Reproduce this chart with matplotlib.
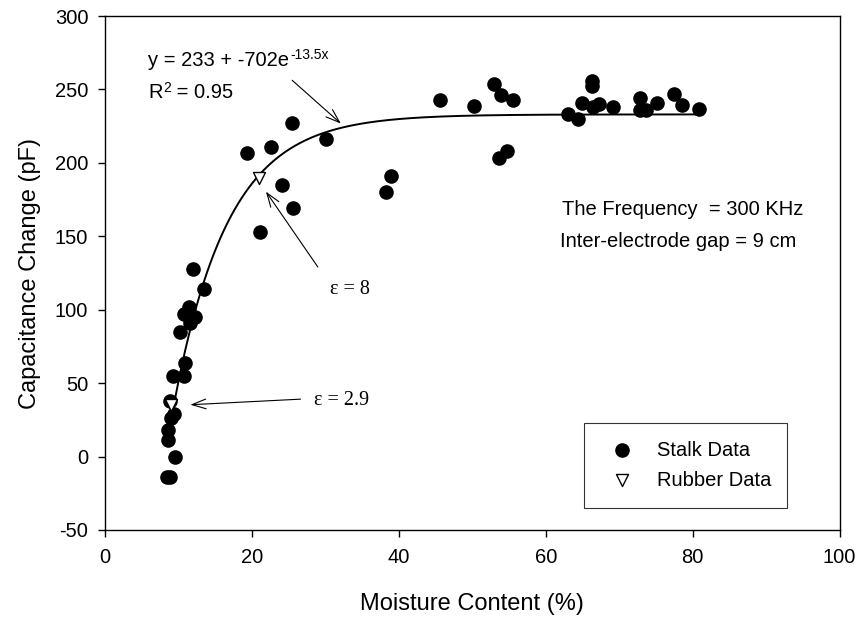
import numpy as np
import matplotlib
matplotlib.use("Agg")
from matplotlib import pyplot as plt

# stalk measurements (moisture %, capacitance change pF)
stalk_x = [8.5, 8.9, 9.5, 8.6, 8.6, 9.0, 9.4, 8.85, 9.2, 10.7, 10.9, 10.2, 11.6, 12.2,
           10.7, 11.4, 13.5, 12.0,
           19.3, 22.6, 25.5, 30.1, 24.1, 25.6, 21.1, 38.3, 39.0,
           45.6, 50.3, 53.0, 53.9, 55.5, 53.6, 54.7,
           63.1, 64.4, 64.9, 66.3, 66.3, 66.5, 67.2, 69.2, 72.9, 72.9, 73.6, 75.2,
           77.5, 78.5, 80.9]
stalk_y = [-14, -14, 0, 11, 18, 26, 29, 37.5, 55, 55, 64, 85, 91, 95,
           97, 102, 114, 127.5,
           207, 211, 227, 216, 185, 169, 153, 180, 191,
           243, 239, 254, 246, 243, 203.5, 208,
           233.5, 230, 240.5, 252.5, 256, 238, 240, 238, 244.5, 236, 236, 240.6,
           247, 239.5, 237]

# rubber reference points
rubber_x = [9.0, 21.0]
rubber_y = [35, 189.6]

# fitted model y = a + b*exp(c*x/100)
fit_a = 233
fit_b = -702
fit_c = -13.5

plt.rcParams['font.family'] = ['Liberation Sans', 'DejaVu Sans']
plt.rcParams['axes.unicode_minus'] = False
serif = ['Liberation Serif', 'DejaVu Serif']

fig = plt.figure(figsize=(8.59, 6.18), dpi=100)
ax = fig.add_axes([0.1222, 0.1424, 0.8551, 0.8317])

xs = np.linspace(min(stalk_x), max(stalk_x), 300)
ax.plot(xs, fit_a + fit_b * np.exp(fit_c * xs / 100), color='black', lw=1.4, zorder=2)

ax.scatter(stalk_x, stalk_y, s=90, color='black', zorder=3, label='Stalk Data')
ax.scatter(rubber_x, rubber_y, s=75, marker='v', facecolor='white', edgecolor='black',
           linewidth=1.0, zorder=4, label='Rubber Data')

ax.set_xlim(0, 100)
ax.set_ylim(-50, 300)
ax.set_xticks(np.arange(0, 101, 20))
ax.set_yticks(np.arange(-50, 301, 50))
ax.tick_params(direction='out', length=5, width=1, labelsize=14.5, pad=7)
ax.tick_params(axis='x', pad=8)
for sp in ax.spines.values():
    sp.set_linewidth(1.0)

ax.set_xlabel('Moisture Content (%)', fontsize=17, labelpad=19)
ax.set_ylabel('Capacitance Change (pF)', fontsize=17, labelpad=10)

# fit equation and arrow
t1 = ax.text(5.9, 270, 'y = 233 + -702e', fontsize=14.5, va='center')
ax.annotate('-13.5x', xy=(1.0, 1.0), xycoords=t1, xytext=(0.5, 2), textcoords='offset points',
            fontsize=10, va='top', ha='left')
t2 = ax.text(5.9, 248, 'R', fontsize=14.5, va='center')
ax.annotate('2', xy=(1.0, 1.0), xycoords=t2, xytext=(0.5, 1), textcoords='offset points',
            fontsize=10, va='top', ha='left')
ax.annotate(' = 0.95', xy=(1.0, 0.5), xycoords=t2, xytext=(6, 0), textcoords='offset points',
            fontsize=14.5, va='center', ha='left')
arr = dict(arrowstyle='->,head_length=1.0,head_width=0.35', color='black', lw=0.8)
ax.annotate('', xy=(32.4, 225.5), xytext=(25.2, 257.5), arrowprops=arr)

# dielectric constant annotations
ax.annotate('', xy=(21.7, 182), xytext=(29.2, 127.5), arrowprops=arr)
ax.text(30.6, 114, '\u03b5 = 8', fontsize=14.5, va='center', family=serif)
ax.annotate('', xy=(11.25, 35.2), xytext=(27.0, 39.2), arrowprops=arr)
ax.text(28.4, 38.5, '\u03b5 = 2.9', fontsize=14.5, va='center', family=serif)

ax.text(62.2, 168, 'The Frequency  = 300 KHz', fontsize=14.5, va='center')
ax.text(62.0, 146.5, 'Inter-electrode gap = 9 cm', fontsize=14.5, va='center')

leg = ax.legend(loc='lower left', bbox_to_anchor=(0.652, 0.043, 0.276, 0.153), mode='expand',
                fontsize=14.5, frameon=True, fancybox=False, edgecolor='black',
                handletextpad=0.75, borderpad=0.9, labelspacing=0.55, borderaxespad=0)
leg.get_frame().set_linewidth(0.8)

fig.savefig('out.png', dpi=100)
